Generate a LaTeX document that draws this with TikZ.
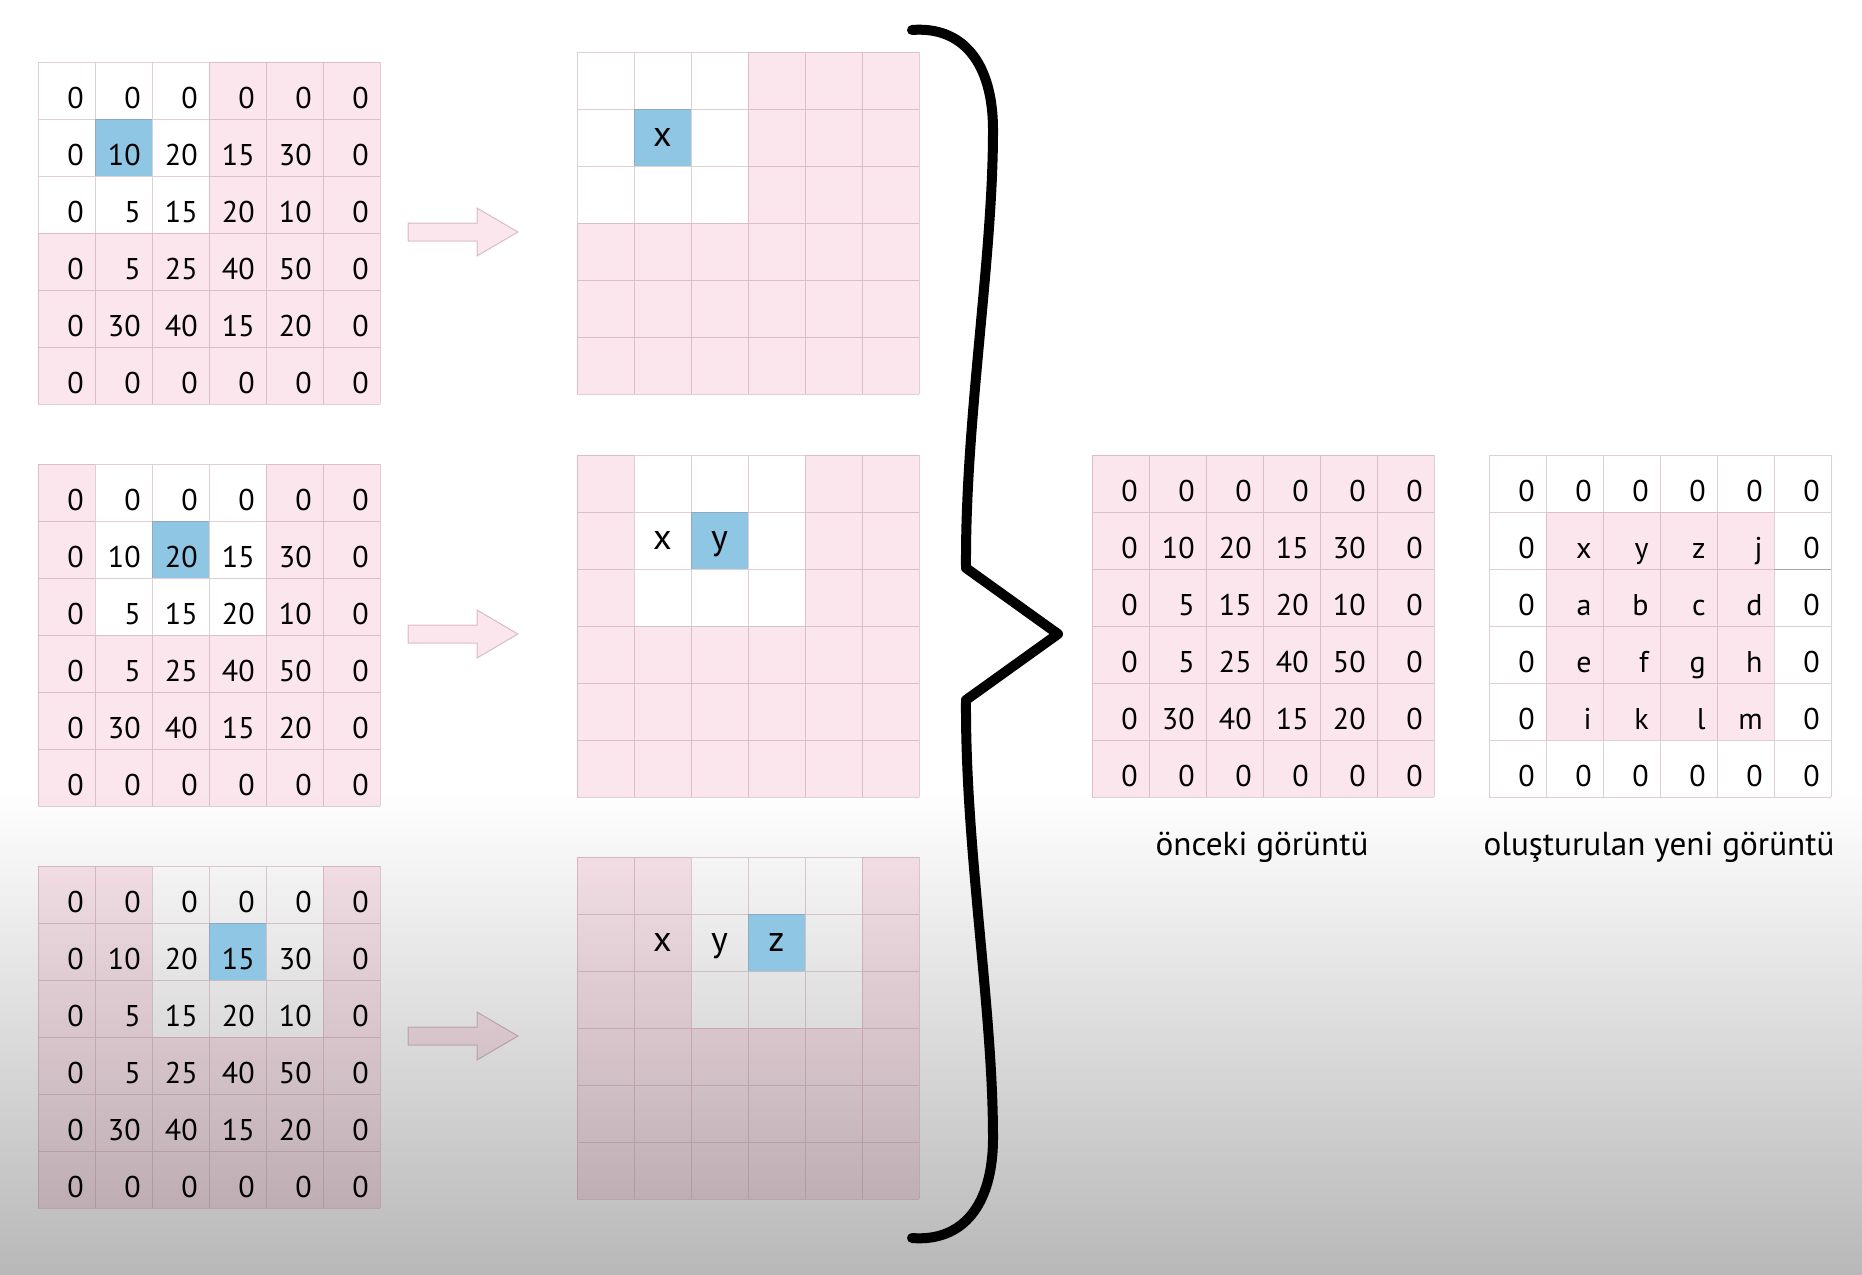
\documentclass[tikz,border=0pt]{standalone}
\usepackage{fontspec}
\setmainfont{PT Sans}
\usepackage{xcolor}
\usepackage{tikz}
\usetikzlibrary{calc}

\definecolor{cellpink}{RGB}{251,230,237}
\definecolor{cellblue}{RGB}{143,198,228}
\definecolor{gridline}{RGB}{150,100,120}
\definecolor{bggray}{RGB}{184,184,184}

\tikzset{
  pinkcell/.style={fill=cellpink, blend mode=multiply},
  bluecell/.style={fill=cellblue},
  gridlines/.style={draw=gridline, draw opacity=0.3, line width=0.5pt},
  numtext/.style={anchor=base east, inner sep=0pt, font=\fontsize{15}{18}\selectfont},
  lettext/.style={anchor=base, inner sep=0pt, font=\fontsize{18}{21}\selectfont},
  caption/.style={anchor=base, inner sep=0pt, font=\fontsize{16.6}{20}\selectfont},
  brace/.style={line width=5pt, line cap=round, line join=round},
  blockarrow/.style={fill=cellpink, blend mode=multiply, draw=gridline!35, line width=0.5pt}
}

% cells of a 6x6 grid: origin, window cols/rows, 1 = window white / 0 = window pink, blue column
\newcommand{\gridcells}[8]{%
  \foreach \r in {1,...,6}{
    \foreach \c in {1,...,6}{
      \pgfmathtruncatemacro{\inwin}{and(and(\c>=#3,\c<=#4),and(\r>=#5,\r<=#6))}
      \ifnum\inwin=#7\relax\else
        \fill[pinkcell] ({#1+(\c-1)*57},{#2+(\r-1)*57}) rectangle ++(57,57);
      \fi
    }
  }
  \ifnum#8>0
    \fill[bluecell] ({#1+(#8-1)*57},{#2+57}) rectangle ++(57,57);
  \fi
  \draw[gridlines] \foreach \i in {0,...,6}{
    ({#1+\i*57},#2) -- ++(0,342) (#1,{#2+\i*57}) -- ++(342,0)};
}

% numbers of the image
\newcommand{\gridnums}[3]{%
  \foreach [count=\r] \row in {{0,0,0,0,0,0},{0,10,20,15,30,0},{0,5,15,20,10,0},
      {0,5,25,40,50,0},{0,30,40,15,20,0},{0,0,0,0,0,0}}{
    \foreach [count=\c] \v in \row{
      \node[numtext] (#1-\r-\c) at ({#2+\c*57-11},{#3+\r*57-11}) {\v};
    }
  }
}

\begin{document}
\begin{tikzpicture}[x=0.5pt,y=-0.5pt]
\useasboundingbox (0,0) rectangle (1862,1274);
\fill[white] (0,0) rectangle (1862,1274);
\shade[top color=white, bottom color=bggray] (0,790) rectangle (1862,1274);

% left column: padded image with 3x3 window
\gridcells{38}{62}{1}{3}{1}{3}{1}{2}
\gridcells{38}{464}{2}{4}{1}{3}{1}{3}
\gridcells{38}{866}{3}{5}{1}{3}{1}{4}
\gridnums{ga}{38}{62}
\gridnums{gb}{38}{464}
\gridnums{gc}{38}{866}

% middle column: output being filled
\gridcells{577}{52}{1}{3}{1}{3}{1}{2}
\gridcells{577}{455}{2}{4}{1}{3}{1}{3}
\gridcells{577}{857}{3}{5}{1}{3}{1}{4}
\node[lettext] (ma-x) at ({577+1.5*57},{52+1.5*57+9}) {x};
\node[lettext] (mb-x) at ({577+1.5*57},{455+1.5*57+9}) {x};
\node[lettext] (mb-y) at ({577+2.5*57},{455+1.5*57+9}) {y};
\node[lettext] (mc-x) at ({577+1.5*57},{857+1.5*57+9}) {x};
\node[lettext] (mc-y) at ({577+2.5*57},{857+1.5*57+9}) {y};
\node[lettext] (mc-z) at ({577+3.5*57},{857+1.5*57+9}) {z};

% arrows
\foreach \ay in {232,634,1036}{
  \draw[blockarrow] (408,{\ay-9}) -- (477,{\ay-9}) -- (477,{\ay-24}) -- (518,\ay)
    -- (477,{\ay+24}) -- (477,{\ay+9}) -- (408,{\ay+9}) -- cycle;
}

% brace
\draw[brace] (912,30) .. controls (962,26) and (993,62) .. (993,130)
  .. controls (993,260) and (965,420) .. (966,568) -- (1058,634) -- (966,700)
  .. controls (965,848) and (993,1008) .. (993,1138)
  .. controls (993,1206) and (962,1242) .. (912,1238);

% right: previous and new image
\gridcells{1092}{455}{7}{0}{1}{6}{1}{0}
\gridnums{ra}{1092}{455}
\gridcells{1489}{455}{2}{5}{2}{5}{0}{0}
\draw[gray!70, line width=0.5pt] ({1489+5*57},{455+2*57}) -- ++(57,0);
\foreach [count=\r] \row in {{0,0,0,0,0,0},{0,x,y,z,j,0},{0,a,b,c,d,0},
    {0,e,f,g,h,0},{0,i,k,l,m,0},{0,0,0,0,0,0}}{
  \foreach [count=\c] \v in \row{
    \node[numtext] (rb-\r-\c) at ({1489+\c*57-11},{455+\r*57-11}) {\v};
  }
}
\node[caption] (onceki) at (1262,855) {önceki görüntü};
\node[caption] (yeni) at (1659,855) {oluşturulan yeni görüntü};
\end{tikzpicture}
\end{document}
